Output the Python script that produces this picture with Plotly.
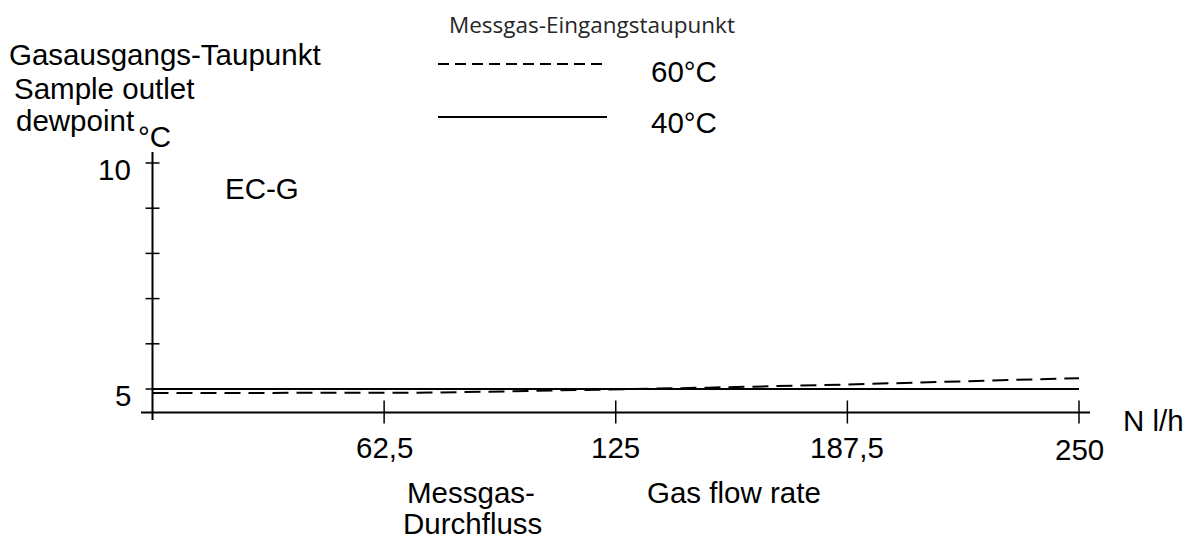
import plotly.graph_objects as go

# ---- data -------------------------------------------------------------
flow_60 = [0, 50, 75, 97, 125, 150, 187.5, 250]            # N l/h
dew_60 = [4.91, 4.91, 4.92, 4.95, 4.99, 5.03, 5.10, 5.24]  # °C, inlet dewpoint 60 °C
flow_40 = [0, 250]
dew_40 = [5.0, 5.0]                                        # °C, inlet dewpoint 40 °C

x_ticks = [62.5, 125, 187.5, 250]
x_tick_text = ["62,5", "125", "187,5", "250"]
y_ticks = [5, 6, 7, 8, 9, 10]
y_tick_labels = {5: "5", 10: "10"}

# ---- frame geometry (pixels) -----------------------------------------
W, H = 1191, 543
X0_PX, X250_PX = 152.5, 1079.0   # pixel columns of flow 0 and 250
Y5_PX, Y10_PX = 389.0, 163.0     # pixel rows of 5 °C and 10 °C
XAXIS_ROW = 412.5                # row of the horizontal axis line
sx = (X250_PX - X0_PX) / 250.0
sy = (Y5_PX - Y10_PX) / 5.0


def dx(px):
    return (px - X0_PX) / sx


def dy(py):
    return 5 + (Y5_PX - py) / sy


def paper_x(px):
    return px / W


def paper_y(py):
    return 1 - py / H


FONT = "Liberation Sans, Arial, sans-serif"
FS = 29.5
BLACK = "#000000"

fig = go.Figure()

fig.add_trace(go.Scatter(
    x=flow_60, y=dew_60, mode="lines",
    line=dict(color=BLACK, width=2, dash="16px,8px"),
    showlegend=False, hoverinfo="skip"))
fig.add_trace(go.Scatter(
    x=flow_40, y=dew_40, mode="lines",
    line=dict(color=BLACK, width=2),
    showlegend=False, hoverinfo="skip"))

shapes = []
axis_line = dict(color=BLACK, width=2)
# horizontal axis
shapes.append(dict(type="line", xref="x", yref="y",
                   x0=dx(141), x1=dx(1090), y0=dy(XAXIS_ROW), y1=dy(XAXIS_ROW),
                   line=axis_line))
# vertical axis
shapes.append(dict(type="line", xref="x", yref="y",
                   x0=0, x1=0, y0=dy(420), y1=dy(152), line=axis_line))
# crossing ticks on the flow axis
for xv in x_ticks:
    shapes.append(dict(type="line", xref="x", yref="y",
                       x0=xv, x1=xv, y0=dy(XAXIS_ROW + 11), y1=dy(XAXIS_ROW - 12),
                       line=dict(color=BLACK, width=1.5)))
# crossing ticks on the dewpoint axis
for yv in y_ticks:
    shapes.append(dict(type="line", xref="x", yref="y",
                       x0=dx(X0_PX - 7), x1=dx(X0_PX + 7), y0=yv, y1=yv,
                       line=dict(color=BLACK, width=1.5)))

# legend samples
shapes.append(dict(type="line", xref="paper", yref="paper",
                   x0=paper_x(438), x1=paper_x(607), y0=paper_y(64), y1=paper_y(64),
                   line=dict(color=BLACK, width=2, dash="11px,6px")))
shapes.append(dict(type="line", xref="paper", yref="paper",
                   x0=paper_x(438), x1=paper_x(607), y0=paper_y(117), y1=paper_y(117),
                   line=dict(color=BLACK, width=2)))

ann = []


def text(s, px, py, xanchor="left", size=FS, family=FONT, color=BLACK):
    ann.append(dict(text=s, xref="paper", yref="paper",
                    x=paper_x(px), y=paper_y(py), xanchor=xanchor, yanchor="middle",
                    showarrow=False, font=dict(family=family, size=size, color=color)))


# tick labels
for xv, t in zip(x_ticks, x_tick_text):
    ann.append(dict(text=t, xref="x", yref="paper", x=xv,
                    y=paper_y(447 + (2 if xv == 250 else 0)),
                    xanchor="center", yanchor="middle", showarrow=False,
                    font=dict(family=FONT, size=FS, color=BLACK)))
for yv, t in y_tick_labels.items():
    ann.append(dict(text=t, xref="paper", yref="y", x=paper_x(133), y=yv,
                    yshift=-6, xanchor="right", yanchor="middle", showarrow=False,
                    font=dict(family=FONT, size=FS, color=BLACK)))

# axis titles
text("Gasausgangs-Taupunkt", 7, 55)
text("Sample outlet", 12, 88)
text("dewpoint", 14, 120)
text("°C", 136, 136)
text("N l/h", 1121, 420)
text("Messgas-", 471, 492, xanchor="center")
text("Durchfluss", 472, 523, xanchor="center")
text("Gas flow rate", 734, 492, xanchor="center")
text("EC-G", 223, 188)

# legend
text("Messgas-Eingangstaupunkt", 592, 25, xanchor="center", size=22.5,
     family="Open Sans, Noto Sans, sans-serif", color="#262626")
text("60°C", 649, 71)
text("40°C", 649, 123)

fig.update_layout(
    width=W, height=H,
    margin=dict(l=0, r=0, t=0, b=0),
    paper_bgcolor="white", plot_bgcolor="white",
    xaxis=dict(range=[dx(0), dx(W)], visible=False, fixedrange=True),
    yaxis=dict(range=[dy(H), dy(0)], visible=False, fixedrange=True),
    shapes=shapes, annotations=ann, showlegend=False,
)

fig.write_html("out.html", config={"displayModeBar": False})
